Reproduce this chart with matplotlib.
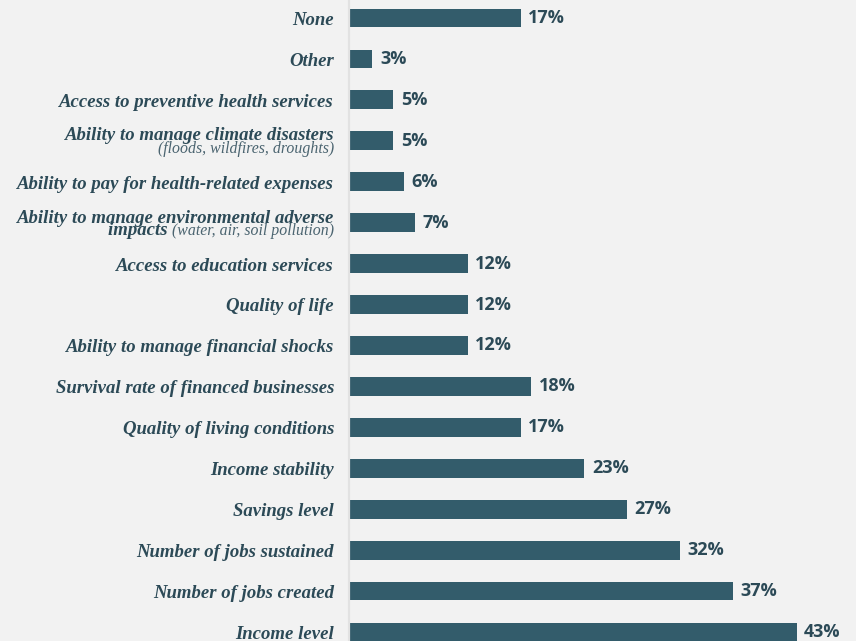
import matplotlib.pyplot as plt

# Categories from top to bottom, as in the reference
labels = [
    "None",
    "Other",
    "Access to preventive health services",
    "Ability to manage climate disasters",
    "Ability to pay for health-related expenses",
    "Ability to manage environmental adverse",
    "Access to education services",
    "Quality of life",
    "Ability to manage financial shocks",
    "Survival rate of financed businesses",
    "Quality of living conditions",
    "Income stability",
    "Savings level",
    "Number of jobs sustained",
    "Number of jobs created",
    "Income level",
]
values = [17, 3, 5, 5, 6, 7, 12, 12, 12, 18, 17, 23, 27, 32, 37, 43]

bg = "#f2f2f2"
bar_color = "#335c6b"
text_color = "#2c4a57"
sub_color = "#4b6470"

serif = "Liberation Serif"
sans = "Open Sans"

fig = plt.figure(figsize=(8.56, 6.41), dpi=100, facecolor=bg)
ax = fig.add_axes([350 / 856, 0, 506 / 856, 1])
ax.set_facecolor(bg)

n = len(labels)
ypos = [n - 1 - i for i in range(n)]

ax.barh(ypos, values, height=0.46, color=bar_color, left=0)
ax.set_xlim(0.9, 48.6)
ax.set_ylim(-0.22, 15.44)

for s in ["top", "right", "bottom"]:
    ax.spines[s].set_visible(False)
ax.spines["left"].set_color("#e2e2e2")
ax.spines["left"].set_linewidth(1.6)
ax.spines["left"].set_position(("axes", -0.002))
ax.set_xticks([])
ax.set_yticks([])

# value labels
for y, v in zip(ypos, values):
    ax.annotate(f"{v}%", xy=(v, y), xytext=(5.5, 0), textcoords="offset points",
                ha="left", va="center", fontsize=13, fontweight="bold",
                family=sans, color=text_color)

# category labels
for y, lab in zip(ypos, labels):
    if lab.startswith("Ability to manage climate"):
        ax.annotate(lab, xy=(0, y), xycoords=("axes fraction", "data"),
                    xytext=(-11.5, 0.7), textcoords="offset points",
                    ha="right", va="baseline", fontsize=13.5, fontweight="bold",
                    fontstyle="italic", family=serif, color=text_color)
        ax.annotate("(floods, wildfires, droughts)", xy=(0, y),
                    xycoords=("axes fraction", "data"),
                    xytext=(-11.5, -8.9), textcoords="offset points",
                    ha="right", va="baseline", fontsize=11.4,
                    fontstyle="italic", family=serif, color=sub_color)
    elif lab.startswith("Ability to manage environmental"):
        ax.annotate(lab, xy=(0, y), xycoords=("axes fraction", "data"),
                    xytext=(-11.5, 0), textcoords="offset points",
                    ha="right", va="baseline", fontsize=13.5, fontweight="bold",
                    fontstyle="italic", family=serif, color=text_color)
        sub = ax.annotate("(water, air, soil pollution)", xy=(0, y),
                          xycoords=("axes fraction", "data"),
                          xytext=(-11.5, -9), textcoords="offset points",
                          ha="right", va="baseline", fontsize=11.4,
                          fontstyle="italic", family=serif, color=sub_color)
        ax.annotate("impacts ", xy=(0, 0), xycoords=sub,
                    ha="right", va="bottom", fontsize=13.5, fontweight="bold",
                    fontstyle="italic", family=serif, color=text_color)
    else:
        ax.annotate(lab, xy=(0, y), xycoords=("axes fraction", "data"),
                    xytext=(-11.5, -5), textcoords="offset points",
                    ha="right", va="baseline", fontsize=13.5, fontweight="bold",
                    fontstyle="italic", family=serif, color=text_color)

fig.savefig("out.png", dpi=100, facecolor=bg)
